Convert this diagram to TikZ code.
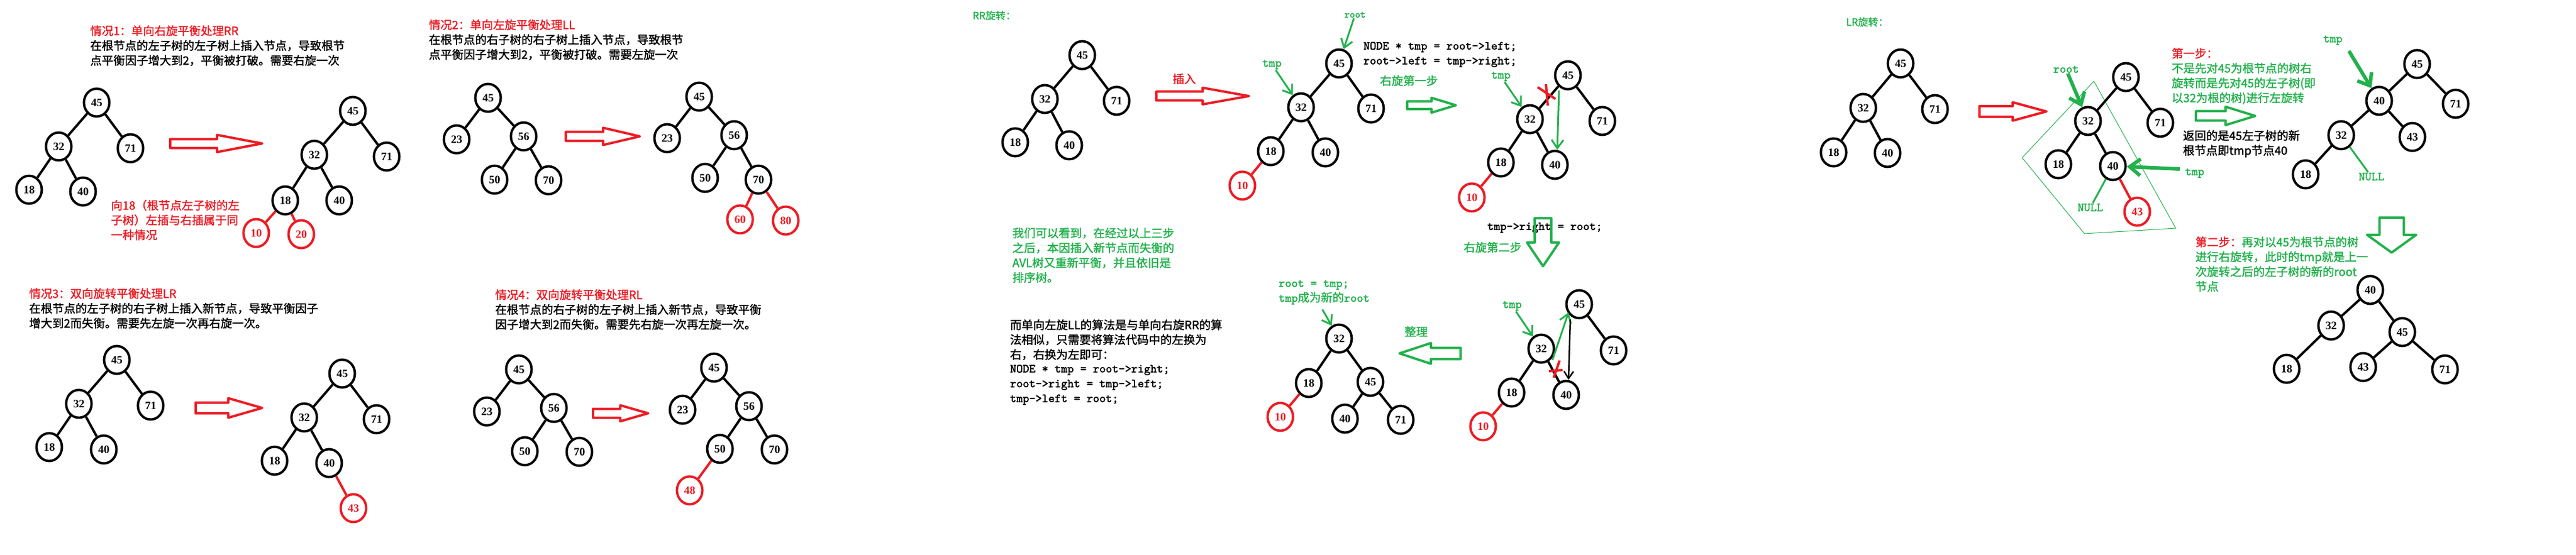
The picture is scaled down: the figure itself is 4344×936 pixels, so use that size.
\documentclass[tikz,border=0pt]{standalone}
\usepackage{fontspec}
\newfontfamily\cjk{Noto Sans CJK SC}[FakeBold=1.6]
\newfontfamily\numf{Liberation Serif}
\newfontfamily\monof{lmmono10-regular.otf}[FakeBold=2.2]
\usetikzlibrary{shapes.geometric,arrows.meta}
\definecolor{pred}{HTML}{ED1C24}
\definecolor{pgreen}{HTML}{22B14C}
\newcommand\mono[1]{{\monof\fontsize{20.5}{25}\selectfont #1}}
% hollow horizontal arrow: colour, tail x, head-base x, tip x, centre y, shaft half, head half
\newcommand\hArrowH[7]{\draw[#1,line width=4pt,line join=round] (#2,#5-#6) -- (#3,#5-#6) -- (#3,#5-#7) -- (#4,#5) -- (#3,#5+#7) -- (#3,#5+#6) -- (#2,#5+#6) -- cycle;}
% hollow down arrow: colour, centre x, top y, head-base y, tip y, shaft half, head half
\newcommand\hArrowV[7]{\draw[#1,line width=4pt,line join=round] (#2-#6,#3) -- (#2+#6,#3) -- (#2+#6,#4) -- (#2+#7,#4) -- (#2,#5) -- (#2-#7,#4) -- (#2-#6,#4) -- cycle;}
\begin{document}
\begin{tikzpicture}[x=1pt,y=-1pt,
  tn/.style={ellipse,draw=black,line width=4pt,minimum width=43pt,minimum height=47pt,inner sep=0pt,font=\numf\bfseries\fontsize{19}{19}\selectfont},
  rn/.style={tn,draw=pred,text=pred},
  ed/.style={line width=4pt,black},
  redge/.style={line width=4pt,pred},
  txt/.style={anchor=west,align=left,inner sep=0pt,font=\cjk\fontsize{19.5}{25}\selectfont},
  code/.style={anchor=west,align=left,inner sep=0pt,font=\monof\fontsize{20.5}{25}\selectfont},
  lbl/.style={text=pgreen,inner sep=1pt,font=\monof\fontsize{20.5}{20.5}\selectfont},
  garr/.style={pgreen,line width=3pt,-{Straight Barb[length=14pt,width=20pt]}},
  gthick/.style={pgreen,line width=6pt,-{Straight Barb[length=18pt,width=28pt]}},
  barr/.style={black,line width=2.5pt,-{Straight Barb[length=12pt,width=16pt]}}
]
\fill[white] (0,0) rectangle (4344,936);
\useasboundingbox (0,0) rectangle (4344,936);

% ================= Case 1 =================
\node[txt] (c1t) at (152,77) {\textcolor{pred}{情况1：单向右旋平衡处理RR}\\在根节点的左子树的左子树上插入节点，导致根节\\点平衡因子增大到2，平衡被打破。需要右旋一次};
\node[tn] (c1a45) at (163,173) {45};
\node[tn] (c1a32) at (99,247) {32};
\node[tn] (c1a71) at (220,250) {71};
\node[tn] (c1a18) at (49,320) {18};
\node[tn] (c1a40) at (140,323) {40};
\draw[ed] (c1a45)--(c1a32) (c1a45)--(c1a71) (c1a32)--(c1a18) (c1a32)--(c1a40);
\hArrowH{pred}{287}{366}{442}{242}{7.5}{14.5}
\node[tn] (c1b45) at (595,187) {45};
\node[tn] (c1b32) at (530,261) {32};
\node[tn] (c1b71) at (652,264) {71};
\node[tn] (c1b18) at (481,338) {18};
\node[tn] (c1b40) at (572,338) {40};
\node[rn] (c1b10) at (432,393) {10};
\node[rn] (c1b20) at (508,395) {20};
\draw[ed] (c1b45)--(c1b32) (c1b45)--(c1b71) (c1b32)--(c1b18) (c1b32)--(c1b40);
\draw[redge] (c1b18)--(c1b10) (c1b18)--(c1b20);
\node[txt,text=pred] (c1n) at (187,371) {向18（根节点左子树的左\\子树）左插与右插属于同\\一种情况};

% ================= Case 3 =================
\node[txt] (c3t) at (49,520) {\textcolor{pred}{情况3：双向旋转平衡处理LR}\\在根节点的左子树的右子树上插入新节点，导致平衡因子\\增大到2而失衡。需要先左旋一次再右旋一次。};
\node[tn] (c3a45) at (197,607) {45};
\node[tn] (c3a32) at (133,681) {32};
\node[tn] (c3a71) at (254,684) {71};
\node[tn] (c3a18) at (83,754) {18};
\node[tn] (c3a40) at (175,758) {40};
\draw[ed] (c3a45)--(c3a32) (c3a45)--(c3a71) (c3a32)--(c3a18) (c3a32)--(c3a40);
\hArrowH{pred}{330}{385}{442}{688}{9}{16.5}
\node[tn] (c3b45) at (577,630) {45};
\node[tn] (c3b32) at (513,704) {32};
\node[tn] (c3b71) at (635,707) {71};
\node[tn] (c3b18) at (463,777) {18};
\node[tn] (c3b40) at (555,781) {40};
\node[rn] (c3b43) at (596,857) {43};
\draw[ed] (c3b45)--(c3b32) (c3b45)--(c3b71) (c3b32)--(c3b18) (c3b32)--(c3b40);
\draw[redge] (c3b40)--(c3b43);

% ================= Case 2 =================
\node[txt] (c2t) at (723,67) {\textcolor{pred}{情况2：单向左旋平衡处理LL}\\在根节点的右子树的右子树上插入节点，导致根节\\点平衡因子增大到2，平衡被打破。需要左旋一次};
\node[tn] (c2a45) at (823,165) {45};
\node[tn] (c2a23) at (770,235) {23};
\node[tn] (c2a56) at (883,230) {56};
\node[tn] (c2a50) at (834,303) {50};
\node[tn] (c2a70) at (925,304) {70};
\draw[ed] (c2a45)--(c2a23) (c2a45)--(c2a56) (c2a56)--(c2a50) (c2a56)--(c2a70);
\hArrowH{pred}{954}{1017}{1079}{230}{7.5}{14.5}
\node[tn] (c2b45) at (1179,163) {45};
\node[tn] (c2b23) at (1125,233) {23};
\node[tn] (c2b56) at (1238,228) {56};
\node[tn] (c2b50) at (1189,300) {50};
\node[tn] (c2b70) at (1279,303) {70};
\node[rn] (c2b60) at (1248,370) {60};
\node[rn] (c2b80) at (1325,372) {80};
\draw[ed] (c2b45)--(c2b23) (c2b45)--(c2b56) (c2b56)--(c2b50) (c2b56)--(c2b70);
\draw[redge] (c2b70)--(c2b60) (c2b70)--(c2b80);

% ================= Case 4 =================
\node[txt] (c4t) at (835,522) {\textcolor{pred}{情况4：双向旋转平衡处理RL}\\在根节点的右子树的左子树上插入新节点，导致平衡\\因子增大到2而失衡。需要先右旋一次再左旋一次。};
\node[tn] (c4a45) at (875,623) {45};
\node[tn] (c4a23) at (821,694) {23};
\node[tn] (c4a56) at (934,688) {56};
\node[tn] (c4a50) at (885,761) {50};
\node[tn] (c4a70) at (977,762) {70};
\draw[ed] (c4a45)--(c4a23) (c4a45)--(c4a56) (c4a56)--(c4a50) (c4a56)--(c4a70);
\hArrowH{pred}{1000}{1046}{1093}{697}{7.5}{13.5}
\node[tn] (c4b45) at (1204,620) {45};
\node[tn] (c4b23) at (1151,691) {23};
\node[tn] (c4b56) at (1263,685) {56};
\node[tn] (c4b50) at (1214,757) {50};
\node[tn] (c4b70) at (1306,758) {70};
\node[rn] (c4b48) at (1163,827) {48};
\draw[ed] (c4b45)--(c4b23) (c4b45)--(c4b56) (c4b56)--(c4b50) (c4b56)--(c4b70);
\draw[redge] (c4b50)--(c4b48);

% ================= RR rotation =================
\node[txt,text=pgreen,font=\cjk\fontsize{17}{20}\selectfont] (rrt) at (1640,26) {RR旋转：};
\node[tn] (ra45) at (1825,93) {45};
\node[tn] (ra32) at (1762,167) {32};
\node[tn] (ra71) at (1883,170) {71};
\node[tn] (ra18) at (1712,240) {18};
\node[tn] (ra40) at (1803,245) {40};
\draw[ed] (ra45)--(ra32) (ra45)--(ra71) (ra32)--(ra18) (ra32)--(ra40);
\node[txt,anchor=center,text=pred] (rrins) at (1997,133) {插入};
\hArrowH{pred}{1950}{2028}{2106}{162}{7.5}{14}
\node[tn] (rb45) at (2258,107) {45};
\node[tn] (rb32) at (2194,181) {32};
\node[tn] (rb71) at (2312,183) {71};
\node[tn] (rb18) at (2143,255) {18};
\node[tn] (rb40) at (2235,257) {40};
\node[rn] (rb10) at (2095,313) {10};
\draw[ed] (rb45)--(rb32) (rb45)--(rb71) (rb32)--(rb18) (rb32)--(rb40);
\draw[redge] (rb18)--(rb10);
\node[lbl,font=\monof\fontsize{17}{17}\selectfont] (rbroot) at (2285,25) {root};
\draw[garr] (rbroot) -- (rb45);
\node[lbl] (rbtmp) at (2145,109) {tmp};
\draw[garr] (rbtmp) -- (rb32);
\node[code] (rbcode) at (2299,92) {NODE * tmp = root->left;\\root->left = tmp->right;};
\node[txt,text=pgreen] (rbstep1) at (2327,136) {右旋第一步};
\hArrowH{pgreen}{2373}{2414}{2455}{177.5}{6.5}{12.5}

% step 1 tree
\node[tn] (sa45) at (2644,127) {45};
\node[tn] (sa32) at (2580,201) {32};
\node[tn] (sa71) at (2702,204) {71};
\node[tn] (sa18) at (2531,274) {18};
\node[tn] (sa40) at (2622,278) {40};
\node[rn] (sa10) at (2482,333) {10};
\draw[ed] (sa45)--(sa32) (sa45)--(sa71) (sa32)--(sa18) (sa32)--(sa40);
\draw[redge] (sa18)--(sa10);
\draw[redge] (2593,147) -- (2623,167) (2607,142) -- (2610,178);
\node[lbl] (satmp) at (2531,129) {tmp};
\draw[garr] (satmp) -- (sa32);
\draw[garr] ([xshift=-15pt]sa45.south) -- ([xshift=4pt]sa40.north);
\node[code] (sacode) at (2508,384) {tmp->right = root;};
\hArrowV{pgreen}{2602}{368}{409}{449}{14}{27}
\node[txt,text=pgreen] (rbstep2) at (2468,417) {右旋第二步};

% step 2 tree
\node[tn] (sb45) at (2663,513) {45};
\node[tn] (sb32) at (2599,588) {32};
\node[tn] (sb71) at (2721,591) {71};
\node[tn] (sb18) at (2549,662) {18};
\node[tn] (sb40) at (2641,666) {40};
\node[rn] (sb10) at (2501,719) {10};
\draw[ed] (sb45)--(sb71) (sb32)--(sb18) (sb32)--(sb40);
\draw[redge] (sb18)--(sb10);
\draw[redge] (2612,626) -- (2635,624) (2630,608) -- (2620,637);
\node[lbl] (sbtmp) at (2550,516) {tmp};
\draw[garr] (sbtmp) -- (sb32);
\draw[garr] ([shift={(19,19)}]sb32.center) -- ([shift={(-18,14)}]sb45.center);
\draw[barr] ([xshift=-15pt]sb45.south) -- ([xshift=4pt]sb40.north);

% tidy arrow
\hArrowH{pgreen}{2463}{2413}{2360}{596}{9.5}{17.5}
\node[txt,anchor=center,text=pgreen] (tidy) at (2388,559) {整理};

% final tree
\node[txt,text=pgreen] (fnote) at (2156,493) {\mono{root = tmp;}\\\mono{tmp}成为新的\mono{root}};
\coordinate (fstart) at (2230,522);
\node[tn] (fa32) at (2258,571) {32};
\node[tn] (fa18) at (2207,646) {18};
\node[tn] (fa45) at (2311,644) {45};
\node[rn] (fa10) at (2159,703) {10};
\node[tn] (fa40) at (2268,706) {40};
\node[tn] (fa71) at (2362,708) {71};
\draw[ed] (fa32)--(fa18) (fa32)--(fa45) (fa45)--(fa40) (fa45)--(fa71);
\draw[redge] (fa18)--(fa10);
\draw[garr] (fstart) -- (fa32);

% notes
\node[txt,text=pgreen] (rrnote) at (1707,430.5) {我们可以看到，在经过以上三步\\之后，本因插入新节点而失衡的\\AVL树又重新平衡，并且依旧是\\排序树。};
\node[txt] (llnote) at (1703,573) {而单向左旋LL的算法是与单向右旋RR的算\\法相似，只需要将算法代码中的左换为\\右，右换为左即可：};
\node[code] (llcode) at (1703,649) {NODE * tmp = root->right;\\root->right = tmp->left;\\tmp->left = root;};

% ================= LR rotation =================
\node[txt,text=pgreen,font=\cjk\fontsize{17}{20}\selectfont] (lrt) at (3113,37) {LR旋转：};
\node[tn] (la45) at (3205,107) {45};
\node[tn] (la32) at (3142,182) {32};
\node[tn] (la71) at (3263,184) {71};
\node[tn] (la18) at (3092,257) {18};
\node[tn] (la40) at (3183,258) {40};
\draw[ed] (la45)--(la32) (la45)--(la71) (la32)--(la18) (la32)--(la40);
\hArrowH{pred}{3338}{3394}{3451}{188}{9}{15.5}

\draw[pgreen,line width=1pt] (3410,266) -- (3531,137) -- (3669,385) -- (3515,394) -- cycle;
\node[tn] (lb45) at (3585,130) {45};
\node[tn] (lb32) at (3521,204) {32};
\node[tn] (lb71) at (3643,207) {71};
\node[tn] (lb18) at (3471,277) {18};
\node[tn] (lb40) at (3563,280) {40};
\node[rn] (lb43) at (3604,357) {43};
\draw[ed] (lb45)--(lb32) (lb45)--(lb71) (lb32)--(lb18) (lb32)--(lb40);
\draw[redge] (lb40)--(lb43);
\node[lbl] (lbroot) at (3484,117) {root};
\draw[gthick] (lbroot) -- (lb32);
\node[lbl] (lbtmp) at (3701,292) {tmp};
\coordinate (lbtmps) at (3676,285);
\draw[gthick] (lbtmps) -- (lb40);
\node[lbl] (lbnull) at (3525,350) {NULL};
\draw[pgreen,line width=3pt] (lb40) -- (lbnull);

\node[txt,text=pgreen] (step1) at (3662,128.5) {\textcolor{pred}{第一步：}\\不是先对45为根节点的树右\\旋转而是先对45的左子树(即\\以32为根的树)进行左旋转};
\hArrowH{pgreen}{3703}{3753}{3803}{195.5}{8}{15.5}
\node[txt] (retnote) at (3681,242.5) {返回的是45左子树的新\\根节点即tmp节点40};

\node[tn] (lc45) at (4076,108) {45};
\node[tn] (lc40) at (4012,170) {40};
\node[tn] (lc71) at (4141,175) {71};
\node[tn] (lc32) at (3948,228) {32};
\node[tn] (lc43) at (4068,231) {43};
\node[tn] (lc18) at (3888,294) {18};
\draw[ed] (lc45)--(lc40) (lc45)--(lc71) (lc40)--(lc32) (lc40)--(lc43) (lc32)--(lc18);
\node[lbl] (lctmp) at (3934,68) {tmp};
\coordinate (lctmps) at (3961,86);
\draw[gthick] (lctmps) -- (lc40);
\node[lbl] (lcnull) at (3999,298) {NULL};
\draw[pgreen,line width=3pt] (lc32) -- (lcnull);

\hArrowV{pgreen}{4033}{367}{396}{426}{20.5}{41.5}
\node[txt,text=pgreen] (step2) at (3702,445.5) {\textcolor{pred}{第二步：}再对以45为根节点的树\\进行右旋转，此时的tmp就是上一\\次旋转之后的左子树的新的root\\节点};

\node[tn] (ld40) at (3997,489) {40};
\node[tn] (ld32) at (3931,549) {32};
\node[tn] (ld45) at (4051,560) {45};
\node[tn] (ld18) at (3856,622) {18};
\node[tn] (ld43) at (3985,619) {43};
\node[tn] (ld71) at (4123,623) {71};
\draw[ed] (ld40)--(ld32) (ld40)--(ld45) (ld32)--(ld18) (ld45)--(ld43) (ld45)--(ld71);
\end{tikzpicture}
\end{document}
